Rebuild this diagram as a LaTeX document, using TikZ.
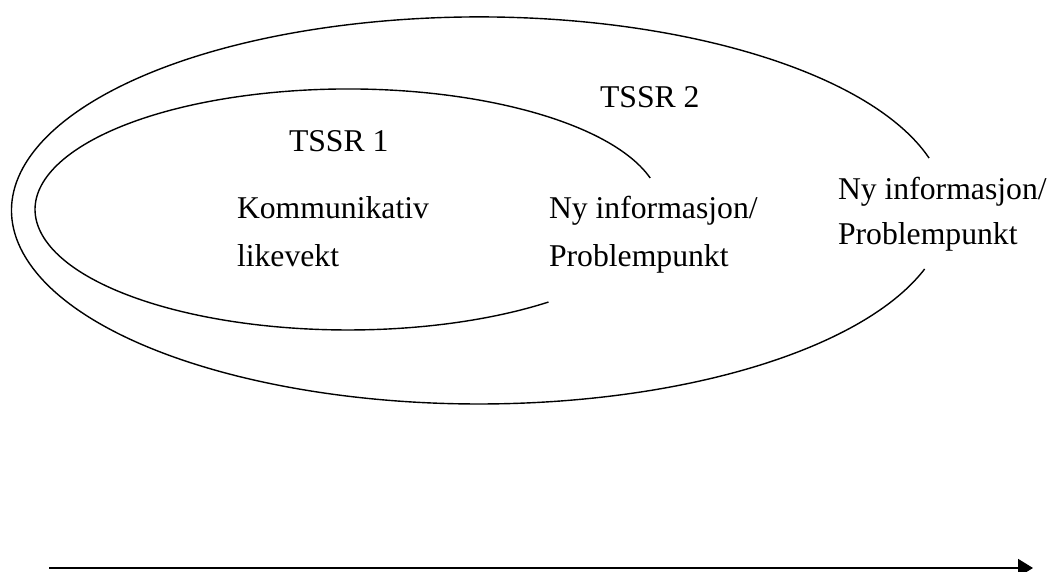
\documentclass[tikz,border=0pt]{standalone}
\usepackage{fontspec}
\setmainfont{Liberation Serif}
\usetikzlibrary{arrows.meta}
\tikzset{
  lbl/.style={anchor=base west, inner sep=0pt, outer sep=0pt, font=\fontsize{31.7}{38}\selectfont},
  loop/.style={draw=black, line width=1.4pt},
  timeline/.style={draw=black, line width=1.9pt, -{Triangle[length=15pt,width=18pt]}}
}
\begin{document}
\begin{tikzpicture}[x=1pt,y=1pt]
\useasboundingbox (0,0) rectangle (1052,572);
% outer loop (TSSR 2)
\coordinate (o1) at (929.1,413.9);
\draw[loop] (o1) arc[start angle=15.7, end angle=342.4, x radius=467.5, y radius=193.5];
% inner loop (TSSR 1)
\coordinate (i1) at (650.2,394.0);
\draw[loop] (i1) arc[start angle=15.15, end angle=309.8, x radius=313, y radius=120.5];
% labels
\node[lbl] (t2) at (600,464) {TSSR 2};
\node[lbl] (t1) at (289,420) {TSSR 1};
\node[lbl] (k1) at (237,353) {Kommunikativ};
\node[lbl] (k2) at (237,305) {likevekt};
\node[lbl] (n1) at (549,353) {Ny informasjon/};
\node[lbl] (n2) at (549,305) {Problempunkt};
\node[lbl] (m1) at (838,372) {Ny informasjon/};
\node[lbl] (m2) at (838,327) {Problempunkt};
% time arrow
\coordinate (a0) at (49,4);
\coordinate (a1) at (1033,4);
\draw[timeline] (a0) -- (a1);
\end{tikzpicture}
\end{document}
